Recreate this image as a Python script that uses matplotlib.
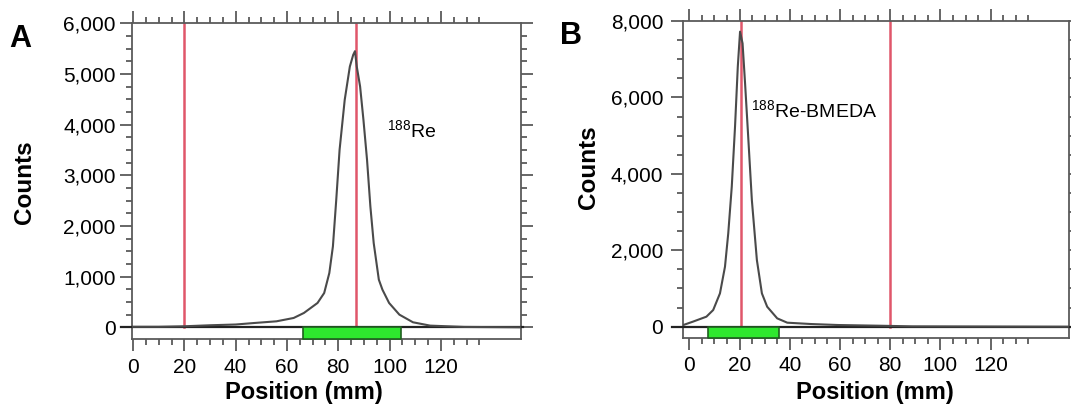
import matplotlib
matplotlib.use("Agg")
import matplotlib.pyplot as plt
from matplotlib.ticker import FuncFormatter, FixedLocator

plt.rcParams['font.family'] = ['Liberation Sans', 'DejaVu Sans']
plt.rcParams['mathtext.fontset'] = 'custom'
plt.rcParams['mathtext.rm'] = 'Liberation Sans'

# ---------------- data ----------------
a_pos = [0, 10, 20, 30, 40, 47.3, 55.9, 62.6, 66.6, 71.9, 74.5, 76.5, 77.9, 79.2,
         80.5, 82.5, 84.5, 85.8, 86.5, 87.2, 88.5, 89.8, 91.2, 92.5, 93.8, 95.8,
         97.2, 99.8, 103.8, 109.1, 115.8, 129.1, 151]
a_counts = [10, 10, 20, 40, 55, 85, 118, 184, 283, 480, 677, 1071, 1597, 2517,
            3503, 4489, 5146, 5376, 5450, 5146, 4752, 4094, 3306, 2386, 1663, 940,
            743, 480, 250, 99, 33, 7, 0]

b_pos = [-2.4, 1.4, 6.8, 9.5, 12.2, 14.2, 15.5, 16.9, 18.2, 19.3, 20.2, 21.2, 22.2,
         23.6, 24.9, 26.9, 28.9, 31.0, 35.0, 39.0, 48.4, 59.2, 75.3, 88.7, 151]
b_counts = [44, 131, 262, 436, 872, 1570, 2443, 3664, 5234, 6805, 7721, 7415, 6368,
            4798, 3315, 1745, 872, 523, 218, 105, 70, 44, 26, 9, 0]

a_red_lines = [20, 87]
b_red_lines = [20.5, 80]
a_region = [66.4, 104.3]
b_region = [7.5, 35.8]
a_label = r'$\mathregular{^{188}}$Re'
b_label = r'$\mathregular{^{188}}$Re-BMEDA'
x_major = [0, 20, 40, 60, 80, 100, 120]
x_minor = [v for v in range(5, 140, 5) if v % 20 != 0]

W, H = 1071, 405
fig = plt.figure(figsize=(W / 100, H / 100), dpi=100)

def px_axes(l, r, t, b):
    return fig.add_axes([l / W, 1 - b / H, (r - l) / W, (b - t) / H])

spine_col = '#5a5a5a'

def style(ax, xlim, ylim, ymaj, ymin_step, ypad):
    ax.set_xlim(*xlim)
    ax.set_ylim(*ylim)
    for s in ax.spines.values():
        s.set_color(spine_col)
        s.set_linewidth(1.3)
    ax.xaxis.set_major_locator(FixedLocator(x_major))
    ax.xaxis.set_minor_locator(FixedLocator(x_minor))
    ax.yaxis.set_major_locator(FixedLocator(ymaj))
    ymn = [v for v in range(0, ymaj[-1] + 1, ymin_step) if v not in ymaj]
    ax.yaxis.set_minor_locator(FixedLocator(ymn))
    ax.yaxis.set_major_formatter(FuncFormatter(lambda v, p: f'{int(v):,}'))
    ax.tick_params(which='both', direction='out', top=True, right=True,
                   colors=spine_col, labelcolor='black', labelsize=15)
    ax.tick_params(which='major', length=8.5, width=1.3)
    ax.tick_params(which='minor', length=4.5, width=1.3)
    ax.tick_params(axis='x', which='major', pad=5)
    ax.tick_params(axis='y', which='major', pad=ypad)

def panel(ax, pos, counts, reds, region, ymax, label, lx, ly):
    ax.axhline(0, xmin=-0.03, xmax=1.006, color='#222222', lw=1.6, clip_on=False, zorder=3)
    for r in reds:
        ax.plot([r, r], [0, ymax], color='#e0566a', lw=1.8, zorder=2)
    ax.plot(pos, counts, color='#4a4a4a', lw=1.5, zorder=4)
    ylo = ax.get_ylim()[0]
    ax.fill_between(region, [ylo, ylo], [0, 0], facecolor='#2ee82e',
                    edgecolor='#1f5f1f', lw=1.2, zorder=5)
    ax.text(lx, ly, label, fontsize=14, ha='left', va='baseline', zorder=6)

# Panel A
axA = px_axes(132.3, 520.7, 23.3, 339.3)
style(axA, (-0.3, 151.1), (-237, 6000), [0, 1000, 2000, 3000, 4000, 5000, 6000], 250, 3.5)
panel(axA, a_pos, a_counts, a_red_lines, a_region, 6000, a_label, 98.9, 3756)

# Panel B
axB = px_axes(683.3, 1069, 21, 337.7)
style(axB, (-2.4, 151.2), (-288, 8000), [0, 2000, 4000, 6000, 8000], 500, 6)
panel(axB, b_pos, b_counts, b_red_lines, b_region, 8000, b_label, 24.4, 5480)

# axis labels
for cx, cy in [(303.5, 399), (875, 399)]:
    fig.text(cx / W, 1 - cy / H, 'Position (mm)', fontsize=17, fontweight='bold',
             ha='center', va='baseline')
for cx, cy in [(24.5, 182), (589, 167.5)]:
    fig.text(cx / W, 1 - cy / H, 'Counts', fontsize=17.5, fontweight='bold',
             ha='center', va='center', rotation=90)

fig.text(9 / W, 1 - 47 / H, 'A', fontsize=22, fontweight='bold', ha='left', va='baseline')
fig.text(560 / W, 1 - 44 / H, 'B', fontsize=22, fontweight='bold', ha='left', va='baseline')

fig.savefig('out.png', dpi=100)
